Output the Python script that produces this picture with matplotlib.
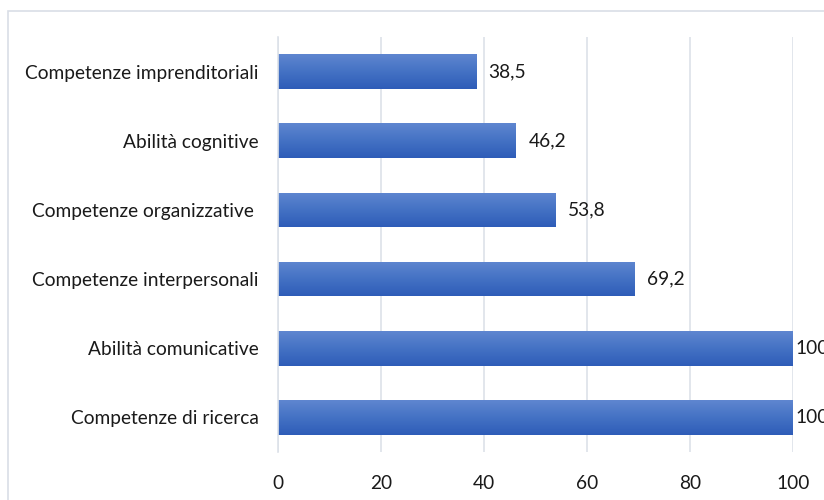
import numpy as np
import matplotlib
matplotlib.use("Agg")
from matplotlib import pyplot as plt
from matplotlib.patches import Rectangle

categorie = ["Competenze di ricerca", "Abilità comunicative", "Competenze interpersonali",
             "Competenze organizzative ", "Abilità cognitive", "Competenze imprenditoriali"]
valori = [100, 100, 69.2, 53.8, 46.2, 38.5]
etichette = ["100", "100", "69,2", "53,8", "46,2", "38,5"]
ticks_x = [0, 20, 40, 60, 80, 100]

plt.rcParams['font.family'] = ['Lato', 'DejaVu Sans']
fs = 13.8

fig = plt.figure(figsize=(8.24, 5), dpi=100)
ax = fig.add_axes([278/824, 1-452/500, (793-278)/824, (452-37)/500])

# bordo del grafico
fig.patches.append(Rectangle((8/824, -0.2), 1.2, 1.2 - 11/500, transform=fig.transFigure,
                             fill=False, edgecolor="#D9DEE6", linewidth=1.2))

y = np.arange(len(categorie))
bars = ax.barh(y, valori, height=0.5, color="none", edgecolor="none")

# gradiente verticale sulle barre
grad = np.linspace(0, 1, 256).reshape(-1, 1)
cmap = matplotlib.colors.LinearSegmentedColormap.from_list("g", ["#2E5CB8", "#4472C4", "#5F86D0"])
for b in bars:
    x0, y0 = b.get_x(), b.get_y()
    w, h = b.get_width(), b.get_height()
    im = ax.imshow(grad, extent=[x0, x0 + w, y0, y0 + h], aspect="auto", cmap=cmap,
                   origin="lower", zorder=2)
    im.set_clip_path(b)

for yi, v, t in zip(y, valori, etichette):
    off = 2.4 if v < 95 else 0.5   # vicino al bordo l'etichetta si stringe
    ax.text(v + off, yi, t, va="center", ha="left", fontsize=fs, color="#1a1a1a", clip_on=False)

ax.set_xlim(0, 100)
ax.set_ylim(-0.5, len(categorie) - 0.5)
ax.set_xticks(ticks_x)
ax.set_yticks(y)
ax.set_yticklabels(categorie)
ax.tick_params(axis="both", length=0, labelsize=fs, labelcolor="#1a1a1a")
ax.tick_params(axis="x", pad=16.5)
ax.tick_params(axis="y", pad=14)
ax.grid(axis="x", color="#DDE2E9", linewidth=1.2, zorder=0)
ax.set_axisbelow(True)
for s in ["top", "right", "bottom"]:
    ax.spines[s].set_visible(False)
ax.spines["left"].set_color("#DDE2E9")
ax.spines["left"].set_linewidth(1.2)

fig.savefig("out.png", dpi=100)
